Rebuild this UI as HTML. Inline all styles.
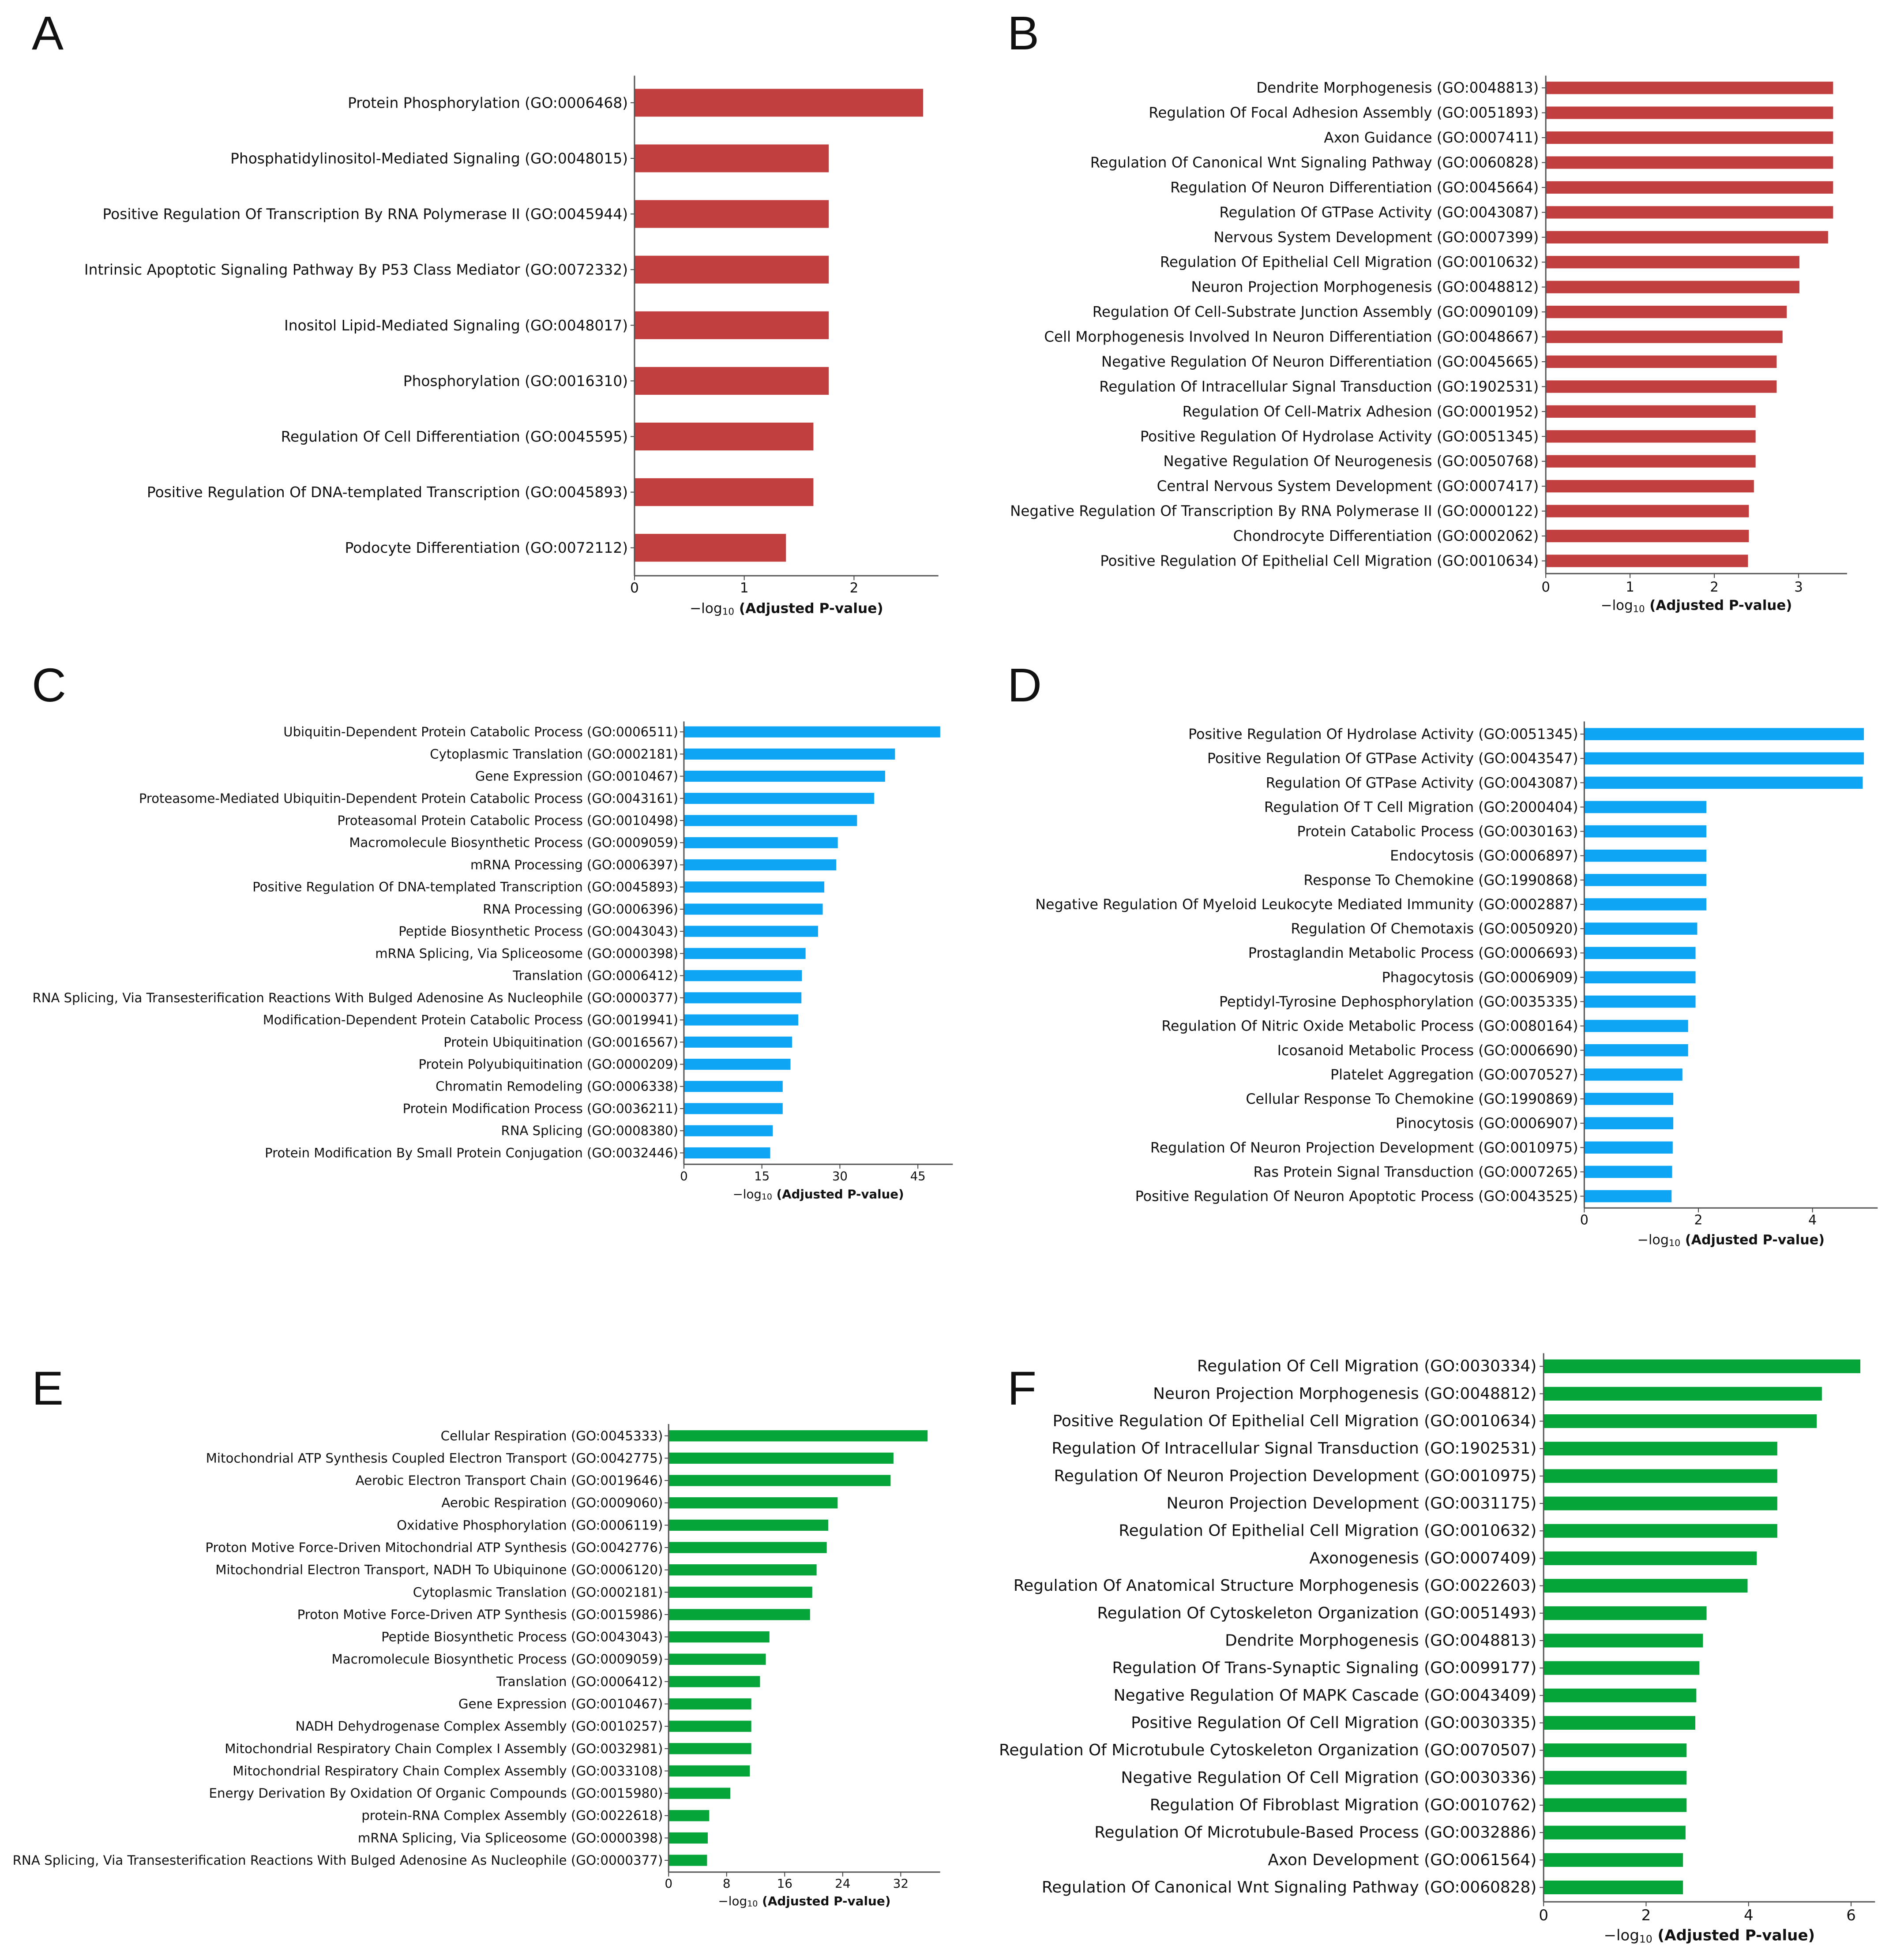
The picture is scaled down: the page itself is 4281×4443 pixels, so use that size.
<!DOCTYPE html>
<html><head><meta charset="utf-8">
<style>
html,body{margin:0;padding:0;background:#fff;}
svg{display:block;}
text{font-family:"DejaVu Sans","Liberation Sans",sans-serif;fill:#111;}
</style></head>
<body>
<svg id="fig" width="4281" height="4443" viewBox="0 0 4281 4443" xmlns="http://www.w3.org/2000/svg">
<rect x="0" y="0" width="4281" height="4443" fill="#fff"/>
<text x="72" y="112" font-size="108" style="font-family:'Liberation Sans',sans-serif">A</text>
<text x="2283" y="112" font-size="108" style="font-family:'Liberation Sans',sans-serif">B</text>
<text x="72" y="1590" font-size="108" style="font-family:'Liberation Sans',sans-serif">C</text>
<text x="2283" y="1590" font-size="108" style="font-family:'Liberation Sans',sans-serif">D</text>
<text x="72" y="3184" font-size="108" style="font-family:'Liberation Sans',sans-serif">E</text>
<text x="2283" y="3184" font-size="108" style="font-family:'Liberation Sans',sans-serif">F</text>
</svg>
<script>
const termsA = ["Protein Phosphorylation (GO:0006468)","Phosphatidylinositol-Mediated Signaling (GO:0048015)","Positive Regulation Of Transcription By RNA Polymerase II (GO:0045944)","Intrinsic Apoptotic Signaling Pathway By P53 Class Mediator (GO:0072332)","Inositol Lipid-Mediated Signaling (GO:0048017)","Phosphorylation (GO:0016310)","Regulation Of Cell Differentiation (GO:0045595)","Positive Regulation Of DNA-templated Transcription (GO:0045893)","Podocyte Differentiation (GO:0072112)"];
const valuesA = [2.63,1.77,1.77,1.77,1.77,1.77,1.63,1.63,1.38];
const ticksA = [0,1,2];

const termsB = ["Dendrite Morphogenesis (GO:0048813)","Regulation Of Focal Adhesion Assembly (GO:0051893)","Axon Guidance (GO:0007411)","Regulation Of Canonical Wnt Signaling Pathway (GO:0060828)","Regulation Of Neuron Differentiation (GO:0045664)","Regulation Of GTPase Activity (GO:0043087)","Nervous System Development (GO:0007399)","Regulation Of Epithelial Cell Migration (GO:0010632)","Neuron Projection Morphogenesis (GO:0048812)","Regulation Of Cell-Substrate Junction Assembly (GO:0090109)","Cell Morphogenesis Involved In Neuron Differentiation (GO:0048667)","Negative Regulation Of Neuron Differentiation (GO:0045665)","Regulation Of Intracellular Signal Transduction (GO:1902531)","Regulation Of Cell-Matrix Adhesion (GO:0001952)","Positive Regulation Of Hydrolase Activity (GO:0051345)","Negative Regulation Of Neurogenesis (GO:0050768)","Central Nervous System Development (GO:0007417)","Negative Regulation Of Transcription By RNA Polymerase II (GO:0000122)","Chondrocyte Differentiation (GO:0002062)","Positive Regulation Of Epithelial Cell Migration (GO:0010634)"];
const valuesB = [3.41,3.41,3.41,3.41,3.41,3.41,3.35,3.01,3.01,2.86,2.81,2.74,2.74,2.49,2.49,2.49,2.47,2.41,2.41,2.40];
const ticksB = [0,1,2,3];

const termsC = ["Ubiquitin-Dependent Protein Catabolic Process (GO:0006511)","Cytoplasmic Translation (GO:0002181)","Gene Expression (GO:0010467)","Proteasome-Mediated Ubiquitin-Dependent Protein Catabolic Process (GO:0043161)","Proteasomal Protein Catabolic Process (GO:0010498)","Macromolecule Biosynthetic Process (GO:0009059)","mRNA Processing (GO:0006397)","Positive Regulation Of DNA-templated Transcription (GO:0045893)","RNA Processing (GO:0006396)","Peptide Biosynthetic Process (GO:0043043)","mRNA Splicing, Via Spliceosome (GO:0000398)","Translation (GO:0006412)","RNA Splicing, Via Transesterification Reactions With Bulged Adenosine As Nucleophile (GO:0000377)","Modification-Dependent Protein Catabolic Process (GO:0019941)","Protein Ubiquitination (GO:0016567)","Protein Polyubiquitination (GO:0000209)","Chromatin Remodeling (GO:0006338)","Protein Modification Process (GO:0036211)","RNA Splicing (GO:0008380)","Protein Modification By Small Protein Conjugation (GO:0032446)"];
const valuesC = [49.3,40.6,38.7,36.6,33.3,29.6,29.3,27.0,26.7,25.8,23.4,22.7,22.6,22.0,20.8,20.5,19.0,19.0,17.1,16.6];
const ticksC = [0,15,30,45];

const termsD = ["Positive Regulation Of Hydrolase Activity (GO:0051345)","Positive Regulation Of GTPase Activity (GO:0043547)","Regulation Of GTPase Activity (GO:0043087)","Regulation Of T Cell Migration (GO:2000404)","Protein Catabolic Process (GO:0030163)","Endocytosis (GO:0006897)","Response To Chemokine (GO:1990868)","Negative Regulation Of Myeloid Leukocyte Mediated Immunity (GO:0002887)","Regulation Of Chemotaxis (GO:0050920)","Prostaglandin Metabolic Process (GO:0006693)","Phagocytosis (GO:0006909)","Peptidyl-Tyrosine Dephosphorylation (GO:0035335)","Regulation Of Nitric Oxide Metabolic Process (GO:0080164)","Icosanoid Metabolic Process (GO:0006690)","Platelet Aggregation (GO:0070527)","Cellular Response To Chemokine (GO:1990869)","Pinocytosis (GO:0006907)","Regulation Of Neuron Projection Development (GO:0010975)","Ras Protein Signal Transduction (GO:0007265)","Positive Regulation Of Neuron Apoptotic Process (GO:0043525)"];
const valuesD = [4.90,4.90,4.88,2.14,2.14,2.14,2.14,2.14,1.98,1.95,1.95,1.95,1.82,1.82,1.72,1.56,1.56,1.55,1.54,1.53];
const ticksD = [0,2,4];

const termsE = ["Cellular Respiration (GO:0045333)","Mitochondrial ATP Synthesis Coupled Electron Transport (GO:0042775)","Aerobic Electron Transport Chain (GO:0019646)","Aerobic Respiration (GO:0009060)","Oxidative Phosphorylation (GO:0006119)","Proton Motive Force-Driven Mitochondrial ATP Synthesis (GO:0042776)","Mitochondrial Electron Transport, NADH To Ubiquinone (GO:0006120)","Cytoplasmic Translation (GO:0002181)","Proton Motive Force-Driven ATP Synthesis (GO:0015986)","Peptide Biosynthetic Process (GO:0043043)","Macromolecule Biosynthetic Process (GO:0009059)","Translation (GO:0006412)","Gene Expression (GO:0010467)","NADH Dehydrogenase Complex Assembly (GO:0010257)","Mitochondrial Respiratory Chain Complex I Assembly (GO:0032981)","Mitochondrial Respiratory Chain Complex Assembly (GO:0033108)","Energy Derivation By Oxidation Of Organic Compounds (GO:0015980)","protein-RNA Complex Assembly (GO:0022618)","mRNA Splicing, Via Spliceosome (GO:0000398)","RNA Splicing, Via Transesterification Reactions With Bulged Adenosine As Nucleophile (GO:0000377)"];
const valuesE = [35.7,31.0,30.6,23.3,22.0,21.8,20.4,19.8,19.5,13.9,13.4,12.6,11.4,11.4,11.4,11.2,8.5,5.6,5.4,5.3];
const ticksE = [0,8,16,24,32];

const termsF = ["Regulation Of Cell Migration (GO:0030334)","Neuron Projection Morphogenesis (GO:0048812)","Positive Regulation Of Epithelial Cell Migration (GO:0010634)","Regulation Of Intracellular Signal Transduction (GO:1902531)","Regulation Of Neuron Projection Development (GO:0010975)","Neuron Projection Development (GO:0031175)","Regulation Of Epithelial Cell Migration (GO:0010632)","Axonogenesis (GO:0007409)","Regulation Of Anatomical Structure Morphogenesis (GO:0022603)","Regulation Of Cytoskeleton Organization (GO:0051493)","Dendrite Morphogenesis (GO:0048813)","Regulation Of Trans-Synaptic Signaling (GO:0099177)","Negative Regulation Of MAPK Cascade (GO:0043409)","Positive Regulation Of Cell Migration (GO:0030335)","Regulation Of Microtubule Cytoskeleton Organization (GO:0070507)","Negative Regulation Of Cell Migration (GO:0030336)","Regulation Of Fibroblast Migration (GO:0010762)","Regulation Of Microtubule-Based Process (GO:0032886)","Axon Development (GO:0061564)","Regulation Of Canonical Wnt Signaling Pathway (GO:0060828)"];
const valuesF = [6.18,5.43,5.33,4.56,4.56,4.56,4.56,4.16,3.98,3.18,3.11,3.04,2.98,2.96,2.79,2.79,2.79,2.77,2.72,2.72];
const ticksF = [0,2,4,6];

const NS = "http://www.w3.org/2000/svg";
const fig = document.getElementById('fig');
const K = 0.991;
function mk(tag, attrs, parent){ const e=document.createElementNS(NS,tag); for(const k in attrs) e.setAttribute(k,attrs[k]); (parent||fig).appendChild(e); return e; }

function panel(id, terms, values, ticks, R){
  // correct measured layout relative to measurement crop origin
  const ox = R.ox, oy = R.oy;
  const L = {};
  ['x0','right','labelR'].forEach(k=>{ L[k] = ox + (R[k]-ox)*K; });
  ['yFirst','yLast','top','bottom','tickY','titleY'].forEach(k=>{ L[k] = oy + (R[k]-oy)*K; });
  L.unit = R.unit*K; L.refW = R.refW*K;
  const g = mk('g',{});
  
  
  const xScale = v => L.x0 + v * L.unit;
  const n = terms.length;
  const step = (L.yLast - L.yFirst) / (n - 1);
  const yScale = i => L.yFirst + i * step;
  const bh = step * 0.5;
  const probe = mk('text',{x:0,y:-100,'font-size':100},g);
  probe.textContent = terms[R.refIdx];
  const fs = 100 * L.refW / probe.getComputedTextLength();
  g.removeChild(probe);
  values.forEach((v,i)=>{
    const r = mk('rect',{x:xScale(0), y:yScale(i)-bh/2, width:xScale(v)-xScale(0), height:bh, fill:R.color},g);
    
    
  });
  terms.forEach((t,i)=>{
    const tx = mk('text',{x:L.labelR, y:yScale(i), 'font-size':fs.toFixed(2), 'text-anchor':'end', 'dominant-baseline':'central'},g);
    tx.textContent = t;
    
    
    mk('line',{x1:L.x0-9, x2:L.x0, y1:yScale(i), y2:yScale(i), stroke:'#444','stroke-width':2},g);
  });
  const ya = mk('line',{x1:L.x0, x2:L.x0, y1:L.top, y2:L.bottom, stroke:'#555','stroke-width':3},g);
  
  
  const xa = mk('line',{x1:L.x0, x2:L.right, y1:L.bottom, y2:L.bottom, stroke:'#555','stroke-width':3},g);
  
  
  ticks.forEach(t=>{
    mk('line',{x1:xScale(t), x2:xScale(t), y1:L.bottom, y2:L.bottom+10, stroke:'#444','stroke-width':2},g);
    const tl = mk('text',{x:xScale(t), y:L.tickY, 'font-size':(fs*0.95).toFixed(2), 'text-anchor':'middle','dominant-baseline':'central'},g);
    tl.textContent = String(t);
    
    
  });
  const title = mk('text',{x:(L.x0+L.right)/2, y:L.titleY, 'font-size':(fs*0.95).toFixed(2), 'text-anchor':'middle','dominant-baseline':'central'},g);
  
  
  const s1 = mk('tspan',{},title); s1.textContent = '\u2212log';
  const s2 = mk('tspan',{'font-size':(fs*0.65).toFixed(2),dy:fs*0.22},title); s2.textContent = '10';
  const s3 = mk('tspan',{dy:-fs*0.22,'font-weight':'bold'},title); s3.textContent = '\u00a0(Adjusted P-value)';
}

panel('a', termsA, valuesA, ticksA, {ox:0, oy:0, x0:1451, unit:251, yFirst:235, yLast:1253, top:173, bottom:1317, right:2146, labelR:1436, refIdx:0, refW:641, color:'#c13f3f', tickY:1345, titleY:1392});
panel('b', termsB, valuesB, ticksB, {ox:2200, oy:0, x0:3515, unit:192.7, yFirst:201, yLast:1283, top:173, bottom:1312, right:4204, labelR:3499, refIdx:0, refW:646, color:'#c13f3f', tickY:1343, titleY:1385});
panel('c', termsC, valuesC, ticksC, {ox:0, oy:1450, x0:1564, unit:11.89, yFirst:1661, yLast:2624, top:1637, bottom:2650, right:2179, labelR:1551, refIdx:0, refW:903, color:'#0ea5f5', tickY:2677, titleY:2718});
panel('d', termsD, valuesD, ticksD, {ox:2200, oy:1450, x0:3603, unit:130.5, yFirst:1666, yLast:2723, top:1637, bottom:2750, right:4274, labelR:3589, refIdx:7, refW:1242, color:'#0ea5f5', tickY:2778, titleY:2823});
panel('e', termsE, valuesE, ticksE, {ox:0, oy:2900, x0:1529, unit:16.59, yFirst:3258, yLast:4229, top:3231, bottom:4256, right:2150, labelR:1516, refIdx:19, refW:1488, color:'#05a53a', tickY:4282, titleY:4322});
panel('f', termsF, valuesF, ticksF, {ox:2200, oy:2900, x0:3510, unit:117.2, yFirst:3099, yLast:4291, top:3069, bottom:4324, right:4268, labelR:3494, refIdx:8, refW:1197, color:'#05a53a', tickY:4355, titleY:4401});
</script>
</body></html>
